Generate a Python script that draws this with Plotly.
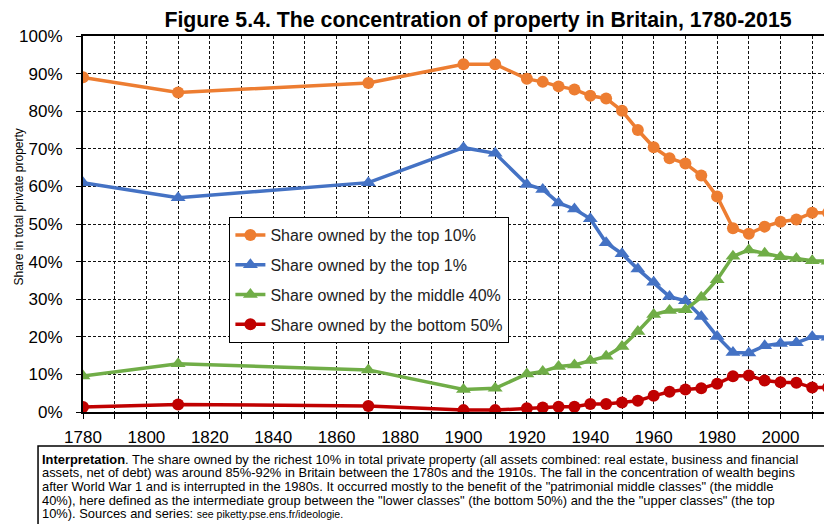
import plotly.graph_objects as go

# ---------------- data ----------------
years = [1780, 1810, 1870, 1900, 1910, 1920, 1925, 1930, 1935, 1940, 1945, 1950,
         1955, 1960, 1965, 1970, 1975, 1980, 1985, 1990, 1995, 2000, 2005, 2010, 2015]
top10 = [89.0, 85.0, 87.5, 92.5, 92.5, 88.6, 87.8, 86.6, 85.8, 84.1, 83.4, 80.1,
         75.0, 70.4, 67.5, 66.1, 62.9, 57.3, 48.9, 47.4, 49.3, 50.6, 51.2, 53.0, 53.0]
top1 = [61.0, 57.0, 61.0, 70.3, 68.8, 60.5, 59.2, 55.6, 54.0, 51.4, 45.0, 42.1,
        38.0, 34.5, 30.7, 29.6, 25.4, 20.1, 15.8, 15.7, 17.6, 18.2, 18.4, 20.0, 19.9]
mid40 = [9.6, 12.8, 11.2, 6.0, 6.3, 10.1, 10.8, 12.1, 12.5, 13.7, 14.8, 17.4,
         21.4, 25.9, 27.0, 27.2, 30.5, 35.2, 41.4, 43.1, 42.2, 41.3, 40.8, 40.2, 40.1]
bot50 = [1.3, 2.0, 1.6, 0.5, 0.5, 1.0, 1.2, 1.4, 1.4, 2.1, 2.1, 2.5,
         3.0, 4.3, 5.4, 6.0, 6.3, 7.5, 9.5, 9.7, 8.4, 7.9, 7.8, 6.5, 6.5]

series_names = ["Share owned by the top 10%", "Share owned by the top 1%",
                "Share owned by the middle 40%", "Share owned by the bottom 50%"]
series_values = [top10, top1, mid40, bot50]
series_colors = ["#ED7D31", "#4472C4", "#70AD47", "#C00000"]
series_symbols = ["circle", "triangle-up", "triangle-up", "circle"]

title_text = "Figure 5.4. The concentration of property in Britain, 1780-2015"
y_title = "Share in total private property"
note_lines = [
    "<b>Interpretation</b>. The share owned by the richest 10% in total private property (all assets combined: real estate, business and financial",
    "assets, net of debt) was around 85%-92% in Britain between the 1780s and the 1910s. The fall in the concentration of wealth begins",
    "after World War 1 and is interrupted in the 1980s. It occurred mostly to the benefit of the \"patrimonial middle classes\" (the middle",
    "40%), here defined as the intermediate group between the \"lower classes\" (the bottom 50%) and the the \"upper classes\" (the top",
    "10%). Sources and series: <span style=\"font-size:10.5px\">see piketty.pse.ens.fr/ideologie.</span>",
]

# ---------------- layout geometry ----------------
W, H = 824, 524
L, R, T, B = 82.5, 0, 36, 112
PW, PH = W - L - R, H - T - B
FONT = "Liberation Sans, Arial, sans-serif"


def px_x(x):
    return (x - L) / PW


def px_y(y):
    return (H - B - y) / PH


fig = go.Figure()
for i, (name, vals, col, sym) in enumerate(zip(series_names, series_values, series_colors, series_symbols)):
    fig.add_trace(go.Scatter(
        x=years, y=vals, name=name, mode="lines+markers",
        line=dict(color=col, width=3.5),
        marker=dict(color=col, size=12 if sym == "circle" else 13, symbol=sym),
        legendgroup=f"g{i}", cliponaxis=True,
    ))

grid = dict(gridcolor="#111", gridwidth=1, griddash="3px,2px")

fig.update_xaxes(
    range=[1780, 1780 + PW / 3.1727], tickmode="linear", tick0=1780, dtick=20,
    showgrid=True, **grid,
    minor=dict(dtick=10, tick0=1780, showgrid=True, ticks="outside", ticklen=5,
               tickcolor="black", **grid),
    ticks="outside", ticklen=5, tickcolor="black",
    showline=True, linecolor="black", linewidth=2, mirror=True,
    tickfont=dict(family=FONT, size=17, color="black"),
    ticklabelstandoff=4,
    zeroline=False, automargin=False,
)
fig.update_yaxes(
    range=[0, 100], tickmode="linear", tick0=0, dtick=10, ticksuffix="%",
    showgrid=True, **grid,
    ticks="outside", ticklen=5, tickcolor="black",
    showline=True, linecolor="black", linewidth=2, mirror=False,
    tickfont=dict(family=FONT, size=17, color="black"),
    ticklabelstandoff=10,
    zeroline=False, automargin=False,
)

annotations = [
    dict(text=y_title, xref="paper", yref="paper", x=px_x(18), y=px_y(207),
         textangle=-90, showarrow=False, xanchor="center", yanchor="middle",
         font=dict(family=FONT, size=12, color="black")),
]
line_ys = [459.5, 473.0, 486.5, 500.0, 513.5]
for txt, ly in zip(note_lines, line_ys):
    annotations.append(dict(text=txt, xref="paper", yref="paper", x=px_x(40), y=px_y(ly),
                            showarrow=False, xanchor="left", yanchor="middle", align="left",
                            borderpad=0,
                            font=dict(family=FONT, size=12.9, color="black")))

shapes = [
    dict(type="rect", xref="paper", yref="paper", x0=px_x(37.5), x1=px_x(840),
         y0=px_y(446), y1=px_y(540), line=dict(color="black", width=1.5),
         fillcolor="rgba(0,0,0,0)"),
]

fig.update_layout(
    width=W, height=H,
    margin=dict(l=L, r=R, t=T, b=B, pad=0, autoexpand=False),
    paper_bgcolor="white", plot_bgcolor="white",
    title=dict(text="<b>" + title_text + "</b>", x=478 / W, xanchor="center",
               y=1 - 20 / H, yanchor="middle", automargin=False,
               font=dict(family=FONT, size=21.3, color="black")),
    showlegend=True,
    legend=dict(x=px_x(229), y=px_y(217), xanchor="left", yanchor="top",
                bgcolor="white", bordercolor="black", borderwidth=1,
                font=dict(family=FONT, size=16, color="#222"),
                tracegroupgap=6, itemwidth=30),
    annotations=annotations, shapes=shapes,
)

fig.write_html(
    "out.html",
    config={"displayModeBar": False},
    post_script="document.body.style.margin='0';document.body.style.overflow='hidden';",
)
